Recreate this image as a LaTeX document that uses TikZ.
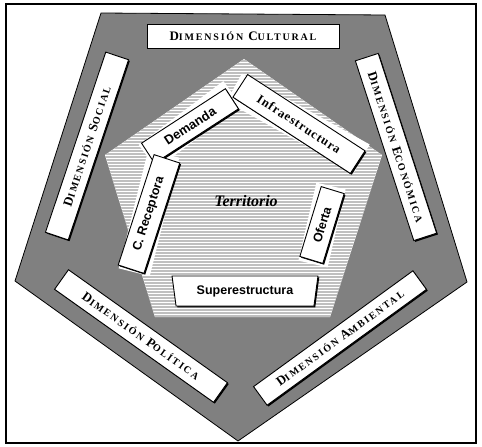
\documentclass[tikz,border=0pt]{standalone}
\usepackage{fontspec}
\setmainfont{Liberation Serif}
\newfontfamily\dimfont[LetterSpace=18]{Liberation Serif}
\newfontfamily\infont[LetterSpace=8]{Liberation Serif}
\newfontfamily\sansf{Liberation Sans}
\usetikzlibrary{shadows,shapes.geometric}
\definecolor{pgray}{RGB}{128,128,128}
\newcommand\Sc[2]{{\fontsize{13}{13}\selectfont #1}{\fontsize{10}{10}\selectfont #2}}
\begin{document}
\begin{tikzpicture}[x=1pt,y=-1pt,
  shad/.style={drop shadow={shadow xshift=1.3pt,shadow yshift=-1.3pt,fill=black,opacity=1}},
  dimbox/.style={draw=black,line width=0.9pt,fill=white,inner sep=0pt,minimum height=24pt,
    font=\dimfont\bfseries,shad},
  inbox/.style={draw=black,line width=0.9pt,fill=white,inner sep=0pt,
    font=\sansf\bfseries\fontsize{12.5}{12.5}\selectfont,shad},
  halo/.style={fill=white,draw=none,inner sep=0pt}]
\useasboundingbox (0,0) rectangle (482,447);
\fill[white] (0,0) rectangle (482,447);
\draw[line width=1.2pt] (6,4) rectangle (476,443);
% outer pentagon
\path[fill=pgray,draw=black,line width=0.8pt] (101,13) -- (385,15) -- (467,282) -- (238,441) -- (15,281) -- cycle;
% inner hatched pentagon
\begin{scope}
  \clip (244,59) -- (382,155) -- (330,317) -- (155,317) -- (105,155) -- cycle;
  \fill[white] (100,55) rectangle (390,320);
  \foreach \yy in {58,61,...,320} \draw[gray!50,line width=1.1pt] (100,\yy) -- (390,\yy);
\end{scope}
% outer labels
\node[dimbox,minimum width=192pt] (cult) at (243,36) {\Sc{D}{IMENSIÓN}\hspace{5pt}\Sc{C}{ULTURAL}};
\node[dimbox,minimum width=190pt,rotate=71.5] (soc) at (87,146) {\Sc{D}{IMENSIÓN}\hspace{5pt}\Sc{S}{OCIAL}};
\node[dimbox,minimum width=189pt,rotate=-72] (eco) at (396,147) {\Sc{D}{IMENSIÓN}\hspace{5pt}\Sc{E}{CONÓMICA}};
\node[dimbox,minimum width=195pt,rotate=-35.4] (pol) at (141,336) {\Sc{D}{IMENSIÓN}\hspace{5pt}\Sc{P}{OLÍTICA}};
\node[dimbox,minimum width=197pt,minimum height=23pt,rotate=36] (amb) at (340,338) {\Sc{D}{IMENSIÓN}\hspace{5pt}\Sc{A}{MBIENTAL}};
% halos
\node[halo,minimum width=106pt,minimum height=30pt,rotate=37] (dh) at (190,125) {};
\node[halo,minimum width=146pt,minimum height=32pt,rotate=-29] (ih) at (298,123) {};
\node[halo,minimum width=122pt,minimum height=32pt,rotate=76] (ch) at (149,213) {};
\node[halo,minimum width=80pt,minimum height=30pt,rotate=77] (oh) at (322,225) {};
% inner boxes
\node[inbox,minimum width=100pt,minimum height=24pt,rotate=33,
  font=\sansf\bfseries\fontsize{13}{13}\selectfont] (dem) at (190,126) {Demanda};
\node[inbox,minimum width=140pt,minimum height=27pt,rotate=-33,
  font=\infont\bfseries\fontsize{12.5}{12.5}\selectfont] (inf) at (299,124) {Infraestructura};
\node[inbox,minimum width=116pt,minimum height=27pt,rotate=72] (rec) at (149,214) {C. Receptora};
\node[inbox,minimum width=73pt,minimum height=24pt,rotate=73] (ofe) at (322,225) {Oferta};
\node[inbox,trapezium,shape border rotate=180,trapezium stretches=true,trapezium angle=76,
  minimum width=146pt,minimum height=30pt] (sup) at (245,291) {Superestructura};
\node[font=\bfseries\itshape\fontsize{16}{16}\selectfont] (terr) at (246,201) {Territorio};
\end{tikzpicture}
\end{document}
